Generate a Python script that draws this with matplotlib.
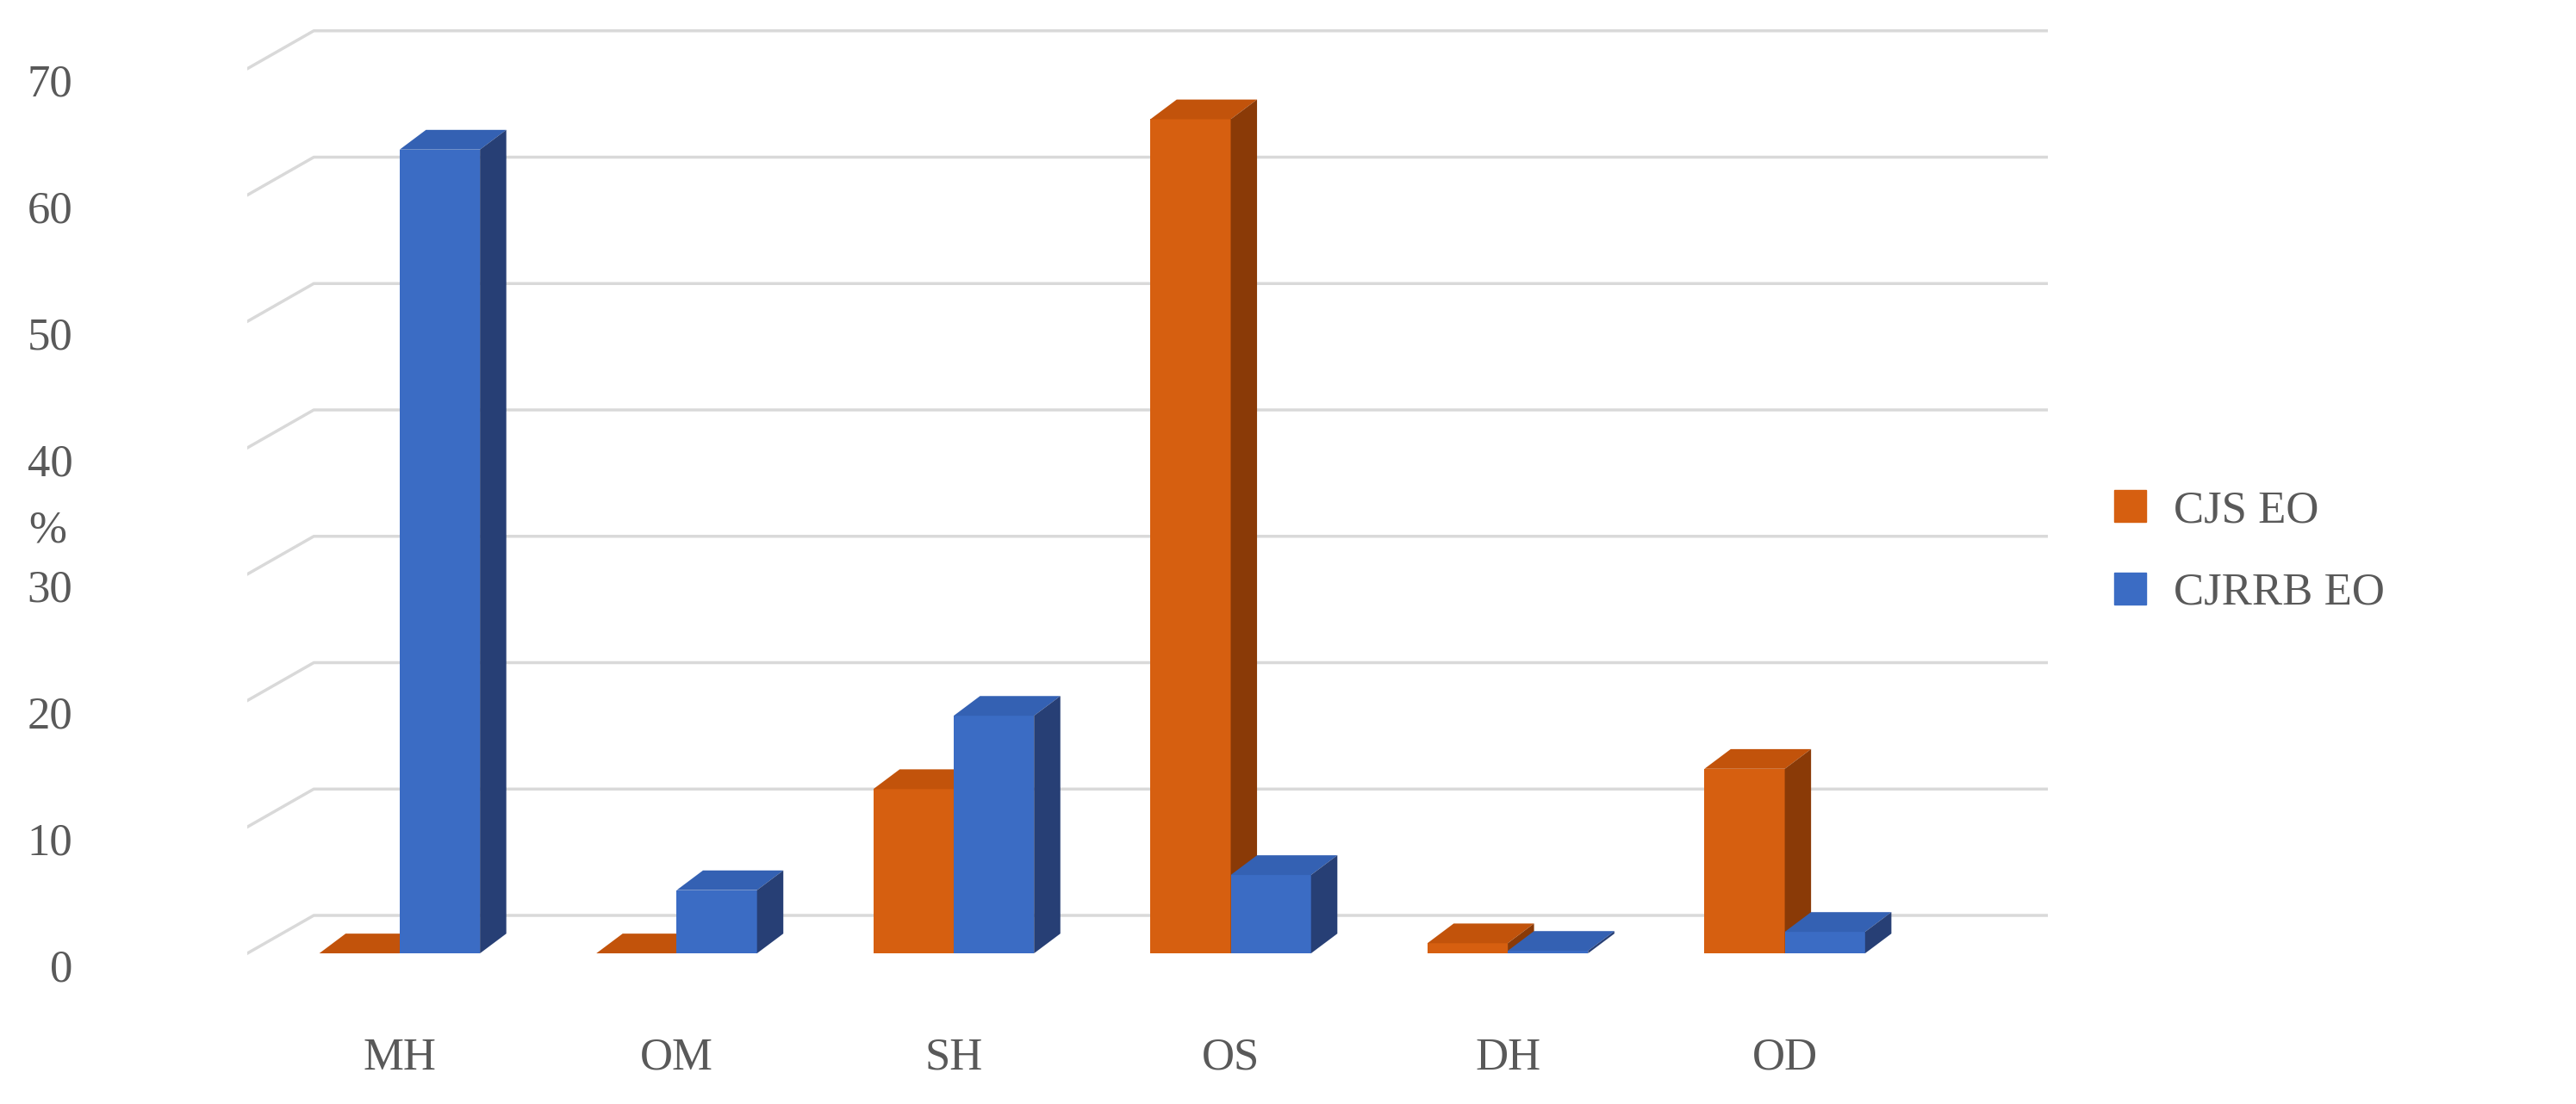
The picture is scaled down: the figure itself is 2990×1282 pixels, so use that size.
import matplotlib.pyplot as plt
from matplotlib.patches import Polygon, Patch

categories = ['MH', 'OM', 'SH', 'OS', 'DH', 'OD']
cjs_eo = [0.0, 0.0, 13.0, 66.0, 0.8, 14.6]
cjrrb_eo = [63.6, 5.0, 18.8, 6.2, 0.2, 1.7]
y_ticks = [0, 10, 20, 30, 40, 50, 60, 70]

orange = ('#D65F10', '#C2530B', '#8A3A07')
blue = ('#3B6CC4', '#3461B3', '#273F75')
txt = '#595959'

plt.rcParams['font.family'] = ['Liberation Serif', 'DejaVu Serif']

fig = plt.figure(figsize=(29.9, 12.82), dpi=100)
ax = fig.add_axes([0.096, 0.022, 0.699, 0.973])
x0, x1 = -0.55, 5.95
ax.set_xlim(x0, x1)
ax.set_ylim(-10, 75)
ax.axis('off')

# back wall gridlines with left-side diagonal
wdx, wdy = 0.24, 3.0
for v in y_ticks:
    ax.plot([x0, x0 + wdx, x1], [v, v + wdy, v + wdy], color='#D9D9D9', lw=2.5, zorder=1)
    ax.text(x0 - 0.63, v - 1.3, str(v), ha='right', va='center', fontsize=38, color=txt)
ax.text(x0 - 0.72, 33.4, '%', ha='center', va='center', fontsize=38, color=txt)

w = 0.29
bdx, bdy = 0.095, 1.56

def bar3d(x, h, cols, z):
    front, top, side = cols
    ax.bar(x, h, width=w, align='edge', color=front, zorder=z)
    ax.add_patch(Polygon([(x, h), (x + w, h), (x + w + bdx, h + bdy), (x + bdx, h + bdy)],
                         closed=True, color=top, zorder=z, lw=0))
    ax.add_patch(Polygon([(x + w, 0), (x + w + bdx, bdy), (x + w + bdx, h + bdy), (x + w, h)],
                         closed=True, color=side, zorder=z, lw=0))

for i, cat in enumerate(categories):
    bar3d(i - w, cjs_eo[i], orange, 2 + 2 * i)
    bar3d(i, cjrrb_eo[i], blue, 3 + 2 * i)
    ax.text(i, -8.3, cat, ha='center', va='center', fontsize=38, color=txt)

handles = [Patch(color=orange[0], label='CJS EO'), Patch(color=blue[0], label='CJRRB EO')]
fig.legend(handles=handles, loc='center left', bbox_to_anchor=(0.805, 0.5), frameon=False,
           fontsize=38, labelcolor=txt, handlelength=0.7, handleheight=0.7, labelspacing=0.9,
           handletextpad=0.6)

fig.savefig('out.png', dpi=100)
